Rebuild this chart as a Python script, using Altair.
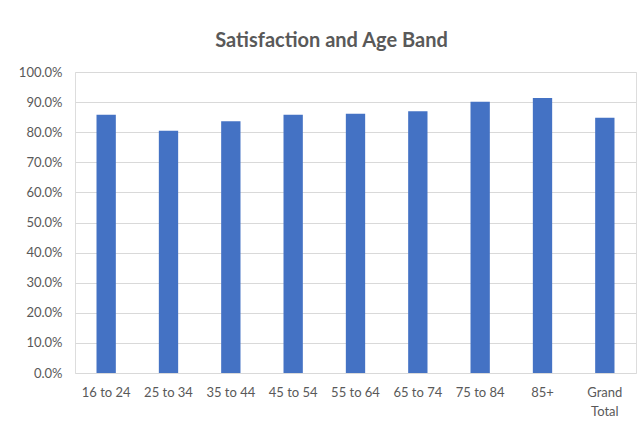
import altair as alt
import pandas as pd

categories = ["16 to 24", "25 to 34", "35 to 44", "45 to 54", "55 to 64",
              "65 to 74", "75 to 84", "85+", "Grand Total"]
values = [0.858, 0.805, 0.836, 0.858, 0.861, 0.870, 0.901, 0.914, 0.848]
y_ticks = [i / 10 for i in range(11)]

df = pd.DataFrame({"band": categories, "sat": values})

FONT = "Lato"
GREY = "#595959"

chart = alt.Chart(df).mark_bar(color="#4472C4").encode(
    x=alt.X("band:N", sort=categories,
            scale=alt.Scale(paddingInner=0.69, paddingOuter=0.345),
            axis=alt.Axis(title=None, labelAngle=0, ticks=False, domain=False,
                          grid=False,
                          labelPadding=13, labelFontSize=13, labelColor=GREY,
                          labelFont=FONT, labelLineHeight=19,
                          labelExpr="datum.label == 'Grand Total' ? ['Grand', 'Total'] : datum.label")),
    y=alt.Y("sat:Q", scale=alt.Scale(domain=[0, 1], nice=False),
            axis=alt.Axis(title=None, values=y_ticks, format=".1%", ticks=False,
                          domain=False, labelPadding=13, labelFontSize=13,
                          labelColor=GREY, labelFont=FONT,
                          gridColor="#d9d9d9", gridWidth=1)),
).properties(
    width=561, height=301,
    title=alt.TitleParams("Satisfaction and Age Band", font=FONT, fontSize=20,
                          fontWeight="bold", color=GREY, anchor="middle",
                          dx=-24, dy=25, offset=24, baseline="alphabetic"),
    autosize=alt.AutoSizeParams(type="none"),
    padding={"left": 75, "top": 72, "right": 5, "bottom": 50},
).configure_view(stroke=None).configure(background="white")

chart.save("out.html", embed_options={"renderer": "svg", "actions": False})
